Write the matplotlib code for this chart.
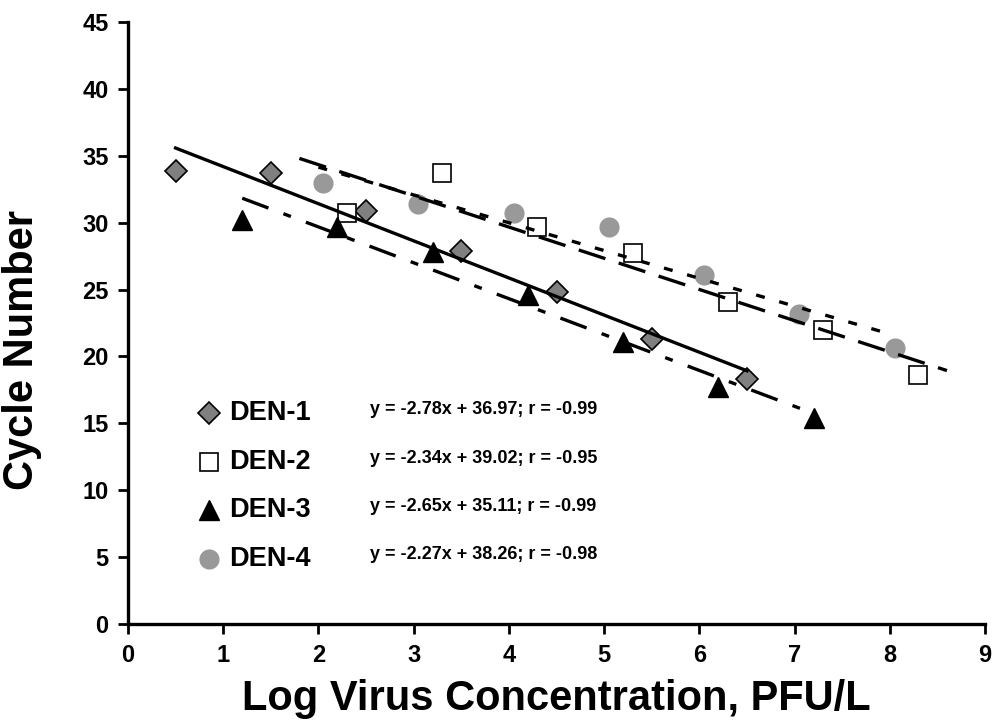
import matplotlib
matplotlib.use("Agg")
import matplotlib.pyplot as plt
import numpy as np

plt.rcParams['font.family'] = ['Liberation Sans', 'DejaVu Sans']
plt.rcParams['font.weight'] = 'bold'

# data
den1_x = [0.5, 1.5, 2.5, 3.5, 4.5, 5.5, 6.5]
den1_y = [33.9, 33.7, 30.9, 27.9, 24.8, 21.3, 18.3]
den2_x = [2.3, 3.3, 4.3, 5.3, 6.3, 7.3, 8.3]
den2_y = [30.7, 33.7, 29.7, 27.7, 24.1, 22.0, 18.6]
den3_x = [1.2, 2.2, 3.2, 4.2, 5.2, 6.2, 7.2]
den3_y = [30.2, 29.7, 27.8, 24.6, 21.1, 17.7, 15.4]
den4_x = [2.05, 3.05, 4.05, 5.05, 6.05, 7.05, 8.05]
den4_y = [33.0, 31.4, 30.7, 29.7, 26.1, 23.2, 20.6]

names = ["DEN-1", "DEN-2", "DEN-3", "DEN-4"]
equations = ["y = -2.78x + 36.97; r = -0.99",
             "y = -2.34x + 39.02; r = -0.95",
             "y = -2.65x + 35.11; r = -0.99",
             "y = -2.27x + 38.26; r = -0.98"]
# trend line extents (x start, x end)
fit_ranges = [(0.5, 6.5), (1.8, 8.6), (1.2, 7.2), (2.0, 8.0)]

xs = [den1_x, den2_x, den3_x, den4_x]
ys = [den1_y, den2_y, den3_y, den4_y]

# styles
markers = [dict(marker='D', ms=11, mfc='#808080', mec='black', mew=1.2),
           dict(marker='s', ms=13, mfc='white', mec='black', mew=1.2),
           dict(marker='^', ms=15, mfc='black', mec='black', mew=1),
           dict(marker='o', ms=14.5, mfc='#999999', mec='#999999', mew=0)]
line_styles = ['-', (0, (8.4, 4.2)), (0, (8.4, 4.8, 2.4, 4.8)), (0, (2.7, 4.5))]

fig = plt.figure(figsize=(9.95, 7.24), dpi=100)
ax = fig.add_axes([0.1286, 0.138, 0.8614, 0.8316])

for i in range(4):
    ax.plot(xs[i], ys[i], linestyle='none', zorder=3, **markers[i])
    slope, icpt = np.polyfit(xs[i], ys[i], 1)
    fx = np.array(fit_ranges[i])
    ax.plot(fx, slope * fx + icpt, color='black', lw=2.4,
            linestyle=line_styles[i], zorder=4)

# legend built by hand, as in the original
leg_y = [15.75, 12.1, 8.5, 4.9]
for i in range(4):
    ax.plot(0.85, leg_y[i], linestyle='none', clip_on=False, **markers[i])
    ax.text(1.06, leg_y[i], names[i], fontsize=19.5, fontweight='bold',
            va='center', ha='left')
    ax.text(2.54, leg_y[i] + 0.3, equations[i], fontsize=13,
            fontweight='bold', va='center', ha='left')

ax.set_xlim(0, 9)
ax.set_ylim(0, 45)
ax.set_xticks(range(0, 10))
ax.set_yticks(range(0, 46, 5))
for s in ['top', 'right']:
    ax.spines[s].set_visible(False)
for s in ['left', 'bottom']:
    ax.spines[s].set_linewidth(2.4)
ax.tick_params(direction='out', length=7, width=2, labelsize=17, pad=7)
for lab in ax.get_xticklabels() + ax.get_yticklabels():
    lab.set_fontweight('bold')

ax.set_xlabel("Log Virus Concentration, PFU/L", fontsize=30,
              fontweight='bold', labelpad=9)
ax.set_ylabel("Cycle Number", fontsize=30, fontweight='bold')
ax.yaxis.set_label_coords(-0.10, 0.455)

fig.savefig("out.png", dpi=100)
